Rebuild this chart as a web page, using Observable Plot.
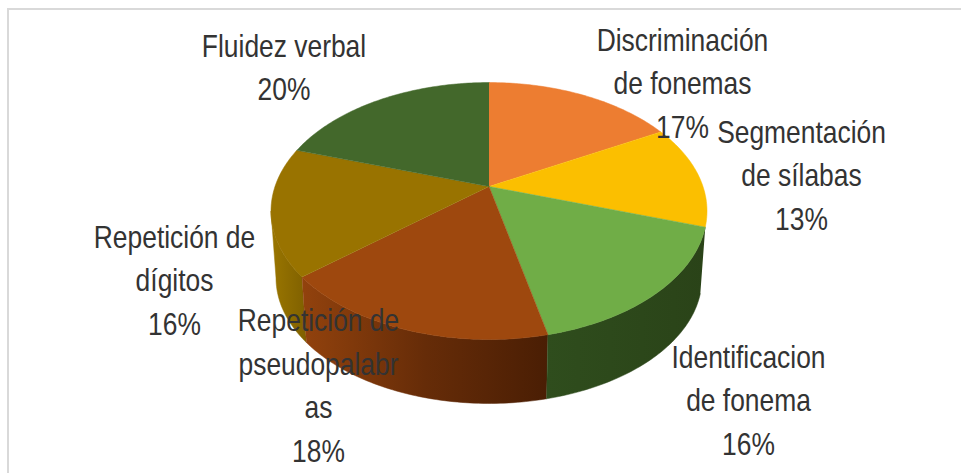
<!DOCTYPE html>
<html>
<head>
<meta charset="utf-8">
<script src="https://cdn.jsdelivr.net/npm/d3@7"></script>
<script src="https://cdn.jsdelivr.net/npm/@observablehq/plot@0.6"></script>
<style>html,body{margin:0;padding:0;background:#fff}svg{display:block}</style>
</head>
<body>
<div id="chart"></div>
<script>
const names = ["Discriminación de fonemas","Segmentación de sílabas","Identificacion de fonema","Repetición de pseudopalabras","Repetición de dígitos","Fluidez verbal"];
const values = [17,13,16.4,17.5,16.1,20];
const colors = ["#ED7D31","#FBBF00","#70AD47","#9E480E","#997300","#43682B"];
const labelTexts = ["Discriminación\nde fonemas\n17%","Segmentación\nde sílabas\n13%","Identificacion\nde fonema\n16%","Repetición de\npseudopalabr\nas\n18%","Repetición de\ndígitos\n16%","Fluidez verbal\n20%"];
const labelX = [682,801,748,318,174,283.5];
const labelY = [80,172,397,382,277,64];

// Perspective view of a disc: a share of the total becomes a point on the rim.
const view = {cx:488.5, cy:186, rx:214, ry:123.8, k:0.1907};
const wall = {cy:253.5, s:0.977};
const total = d3.sum(values);
const cum = d3.cumsum(values);
const theta = share => share / total * 2 * Math.PI;
function rim(t, lower) {
  const d = 1 + view.k * Math.cos(t);
  const s = lower ? wall.s : 1;
  return {x: view.cx + s * view.rx * Math.sin(t) / d,
          y: (lower ? wall.cy : view.cy) - s * view.ry * Math.cos(t) / d};
}
function arc(a, b, lower) {
  const n = Math.max(2, Math.ceil(Math.abs(b - a) * 60));
  return d3.range(n + 1).map(i => rim(a + (b - a) * i / n, lower));
}
const starts = values.map((v, i) => theta(cum[i] - v));
const ends = values.map((v, i) => theta(cum[i]));
const face = i => [{x:view.cx, y:view.cy}, ...arc(starts[i], ends[i], false)];
const side = (a, b) => [...arc(a, b, false), ...arc(b, a, true)];
const leftEdge = 2 * Math.PI - Math.acos(-view.k);

const gradient = (id, stops) => `<linearGradient id="${id}" x1="0" x2="1" y1="0" y2="0">${stops.map(([o,c]) => `<stop offset="${o}" stop-color="${c}"/>`).join("")}</linearGradient>`;
const defs = () => {
  const g = document.createElementNS("http://www.w3.org/2000/svg", "g");
  g.innerHTML = `<defs>${gradient("wallGreen",[[0,"#2F4D1D"],[1,"#2A4318"]])}${gradient("wallBrown",[[0,"#92420D"],[0.5,"#662C08"],[1,"#4A1E04"]])}${gradient("wallGold",[[0,"#9A7600"],[1,"#7F6000"]])}</defs>`;
  return g;
};

const line = (pts, fill) => Plot.line(pts, {x:"x", y:"y", fill, stroke:fill, strokeWidth:0.5, curve:"linear"});
const labels = labelTexts.map((text, i) => ({text, x:labelX[i], y:labelY[i]}));

const plot = Plot.plot({
  width:961, height:473, margin:0,
  x:{type:"identity", axis:null},
  y:{type:"identity", axis:null},
  style:{background:"#fff"},
  marks:[
    defs,
    Plot.rect([{x1:8,x2:990,y1:9,y2:490}], {x1:"x1",x2:"x2",y1:"y1",y2:"y2",fill:"none",stroke:"#D9D9D9",strokeWidth:2}),
    line(side(starts[4], leftEdge), "url(#wallGold)"),
    line(side(starts[3], ends[3]), "url(#wallBrown)"),
    line(side(starts[2], ends[2]), "url(#wallGreen)"),
    ...values.map((v, i) => line(face(i), colors[i])),
    Plot.text(labels, {x:"x", y:"y", text:"text", fontSize:32, lineHeight:1.365, fill:"#333",
      fontFamily:"'Liberation Sans',sans-serif", textAnchor:"middle"})
  ]
});
// The reference labels are set in a condensed face: narrow the regular one.
plot.querySelectorAll("text").forEach(t => {
  const tr = t.getAttribute("transform") || "";
  t.setAttribute("transform", tr + " scale(0.825,1)");
});
document.getElementById("chart").append(plot);
</script>
</body>
</html>
